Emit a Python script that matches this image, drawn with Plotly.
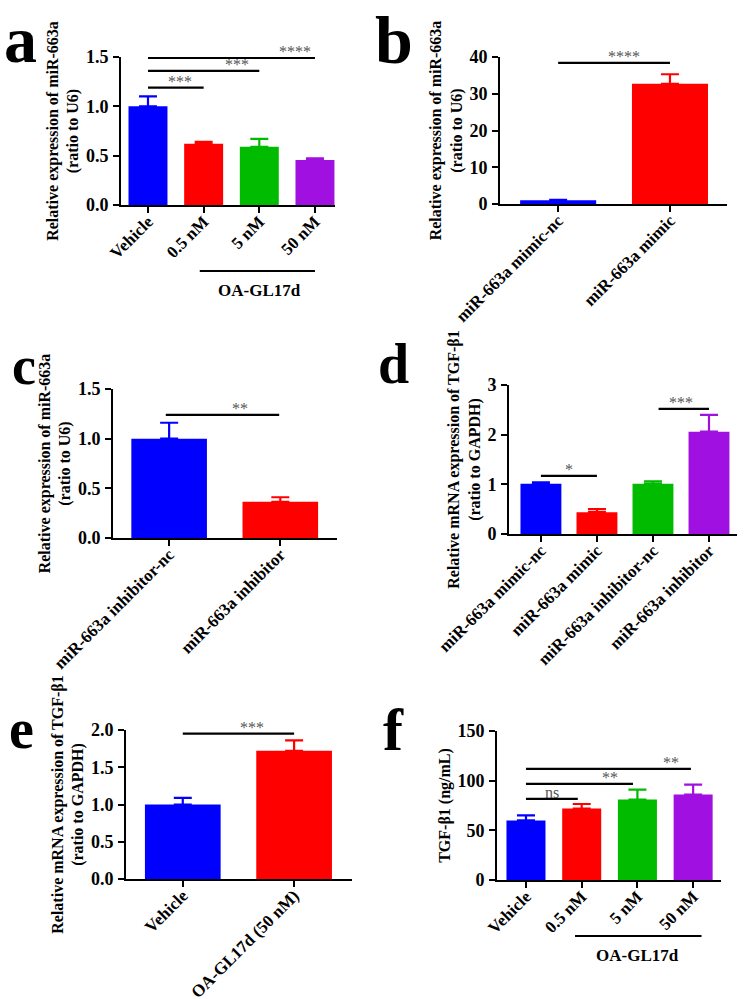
import plotly.graph_objects as go
from plotly.subplots import make_subplots

FONT = "Liberation Serif, Times New Roman, serif"
BLUE, RED, GREEN, PURPLE = "#0000ff", "#ff0000", "#00bb00", "#a010e0"

# ---- data (mean and upper error) ----
a_groups = ["Vehicle", "0.5 nM", "5 nM", "50 nM"]
a_mean = [1.0, 0.62, 0.59, 0.455]
a_err = [0.10, 0.02, 0.08, 0.017]

b_groups = ["miR-663a mimic-nc", "miR-663a mimic"]
b_mean = [1.0, 32.7]
b_err = [0.15, 2.6]

c_groups = ["miR-663a inhibitor-nc", "miR-663a inhibitor"]
c_mean = [1.0, 0.365]
c_err = [0.16, 0.045]

d_groups = ["miR-663a mimic-nc", "miR-663a mimic", "miR-663a inhibitor-nc", "miR-663a inhibitor"]
d_mean = [1.01, 0.44, 1.01, 2.06]
d_err = [0.03, 0.06, 0.05, 0.34]

e_groups = ["Vehicle", "OA-GL17d (50 nM)"]
e_mean = [1.0, 1.72]
e_err = [0.09, 0.14]

f_groups = ["Vehicle", "0.5 nM", "5 nM", "50 nM"]
f_mean = [60, 72, 81, 86]
f_err = [5, 4.5, 10, 10]

# significance brackets: (from group, to group, height, label, label x)
a_sig = [(0, 1, 1.19, "***", 0.57), (0, 2, 1.36, "***", 1.6), (0, 3, 1.49, "****", 2.64)]
b_sig = [(0, 1, 38.4, "****", 0.59)]
c_sig = [(-0.03, 0.99, 1.24, "**", 0.64)]
d_sig = [(0, 1, 1.17, "*", 0.5), (2.1, 3, 2.52, "***", 2.5)]
e_sig = [(0, 1, 1.95, "***", 0.62)]
f_sig = [(0, 0.93, 81.6, "ns", 0.47), (0, 1.92, 96.7, "**", 1.5), (0, 2.96, 111.8, "**", 2.6)]

W, H = 744, 999

panels = [
    # letter, groups, mean, err, colors, sig, ytitle, yticks, fmt, box(px), xrange, bar width, letter pos/size
    ("a", a_groups, a_mean, a_err, [BLUE, RED, GREEN, PURPLE], a_sig,
     "Relative expression of miR-663a<br>(ratio to U6)", [0, 0.5, 1.0, 1.5], ".1f",
     (121, 335, 57, 205), [-0.485, 3.36], 0.7, (20, 40, 66)),
    ("b", b_groups, b_mean, b_err, [BLUE, RED], b_sig,
     "Relative expression of miR-663a<br>(ratio to U6)", [0, 10, 20, 30, 40], "d",
     (500, 727, 57, 204), [-0.52, 1.51], 0.68, (394, 40, 68)),
    ("c", c_groups, c_mean, c_err, [BLUE, RED], c_sig,
     "Relative expression of miR-663a<br>(ratio to U6)", [0, 0.5, 1.0, 1.5], ".1f",
     (113, 337, 389, 538), [-0.505, 1.51], 0.68, (24, 366, 54)),
    ("d", d_groups, d_mean, d_err, [BLUE, RED, GREEN, PURPLE], d_sig,
     "Relative mRNA expression of TGF-β1<br>(ratio to GAPDH)", [0, 1, 2, 3], "d",
     (509, 737, 385, 534), [-0.57, 3.5], 0.73, (393, 364, 56)),
    ("e", e_groups, e_mean, e_err, [BLUE, RED], e_sig,
     "Relative mRNA expression of TGF-β1<br>(ratio to GAPDH)", [0, 0.5, 1.0, 1.5, 2.0], ".1f",
     (126, 352, 730, 879), [-0.51, 1.52], 0.68, (21, 729, 56)),
    ("f", f_groups, f_mean, f_err, [BLUE, RED, GREEN, PURPLE], f_sig,
     "TGF-β1 (ng/mL)", [0, 50, 100, 150], "d",
     (497, 721, 731, 880), [-0.52, 3.5], 0.7, (393, 730, 60)),
]

fig = make_subplots(rows=3, cols=2)
shapes, annotations = [], []

for i, (letter, groups, mean, err, colors, sig, ytitle, yticks, fmt,
        box, xrange, bw, lab) in enumerate(panels):
    row, col = i // 2 + 1, i % 2 + 1
    x0, x1, ytop, ybot = box
    xs = list(range(len(groups)))
    # one bar trace per group so each error bar takes its bar's colour
    for xi, m, e, c in zip(xs, mean, err, colors):
        fig.add_trace(go.Bar(
            x=[xi], y=[m], width=[bw], marker=dict(color=c, line=dict(width=0)),
            error_y=dict(type="data", symmetric=False, array=[e], arrayminus=[0],
                         thickness=2.2, width=9, color=c),
            showlegend=False, hoverinfo="skip",
        ), row=row, col=col)

    suffix = "" if i == 0 else str(i + 1)
    fig.update_layout(**{
        "xaxis" + suffix: dict(
            domain=[x0 / W, x1 / W], range=xrange, tickmode="array",
            tickvals=xs, ticktext=groups, tickangle=-45, automargin=False,
            showline=True, linewidth=2, linecolor="black", ticks="outside",
            ticklen=6, tickwidth=2, tickcolor="black", showgrid=False, zeroline=False,
            tickfont=dict(family=FONT, size=17, color="black", weight="bold"),
            ticklabelstandoff=-8,
        ),
        "yaxis" + suffix: dict(
            domain=[1 - ybot / H, 1 - ytop / H], range=[0, yticks[-1]],
            tickmode="array", tickvals=yticks, tickformat=fmt, automargin=False,
            showline=True, linewidth=2, linecolor="black", ticks="outside",
            ticklen=6, tickwidth=2, tickcolor="black", showgrid=False, zeroline=False,
            tickfont=dict(family=FONT, size=18, color="black", weight="bold"),
            ticklabelstandoff=1,
            title=dict(text=ytitle, standoff=3,
                       font=dict(family=FONT, size=16, color="black", weight="bold")),
        ),
    })
    xr = "x" + suffix
    yr = "y" + suffix
    for g0, g1, h, txt, tx in sig:
        shapes.append(dict(type="line", xref=xr, yref=yr, x0=g0, x1=g1, y0=h, y1=h,
                           line=dict(color="black", width=2.2)))
        annotations.append(dict(x=tx, y=h, xref=xr, yref=yr, text=txt, showarrow=False,
                                yanchor="bottom", yshift=-4,
                                font=dict(family=FONT, size=16, color="#555555")))
    lx, ly, ls = lab
    annotations.append(dict(x=lx / W, y=1 - ly / H, xref="paper", yref="paper",
                            text=letter, showarrow=False, xanchor="center", yanchor="middle",
                            font=dict(family=FONT, size=ls, color="black", weight="bold")))

# OA-GL17d group brackets under panels a and f
for xr, gx0, gx1, yline, ytext, xtext in [("x", 0.93, 3.0, 271, 290, 2.0),
                                          ("x6", 0.88, 3.15, 936, 955, 2.0)]:
    shapes.append(dict(type="line", xref=xr, yref="paper", x0=gx0, x1=gx1,
                       y0=1 - yline / H, y1=1 - yline / H,
                       line=dict(color="black", width=2.2)))
    annotations.append(dict(x=xtext, y=1 - ytext / H, xref=xr, yref="paper",
                            text="OA-GL17d", showarrow=False, yanchor="middle",
                            font=dict(family=FONT, size=17, color="black", weight="bold")))

fig.update_layout(
    width=W, height=H, margin=dict(l=0, r=0, t=0, b=0),
    paper_bgcolor="white", plot_bgcolor="white",
    barmode="overlay", bargap=0.3,
    shapes=shapes, annotations=annotations,
    font=dict(family=FONT, color="black"),
)

# drop the page's default 8px body margin so the figure sits at the window origin
fig.write_html("out.html", config={"displayModeBar": False},
               post_script="document.body.style.margin='0';")
